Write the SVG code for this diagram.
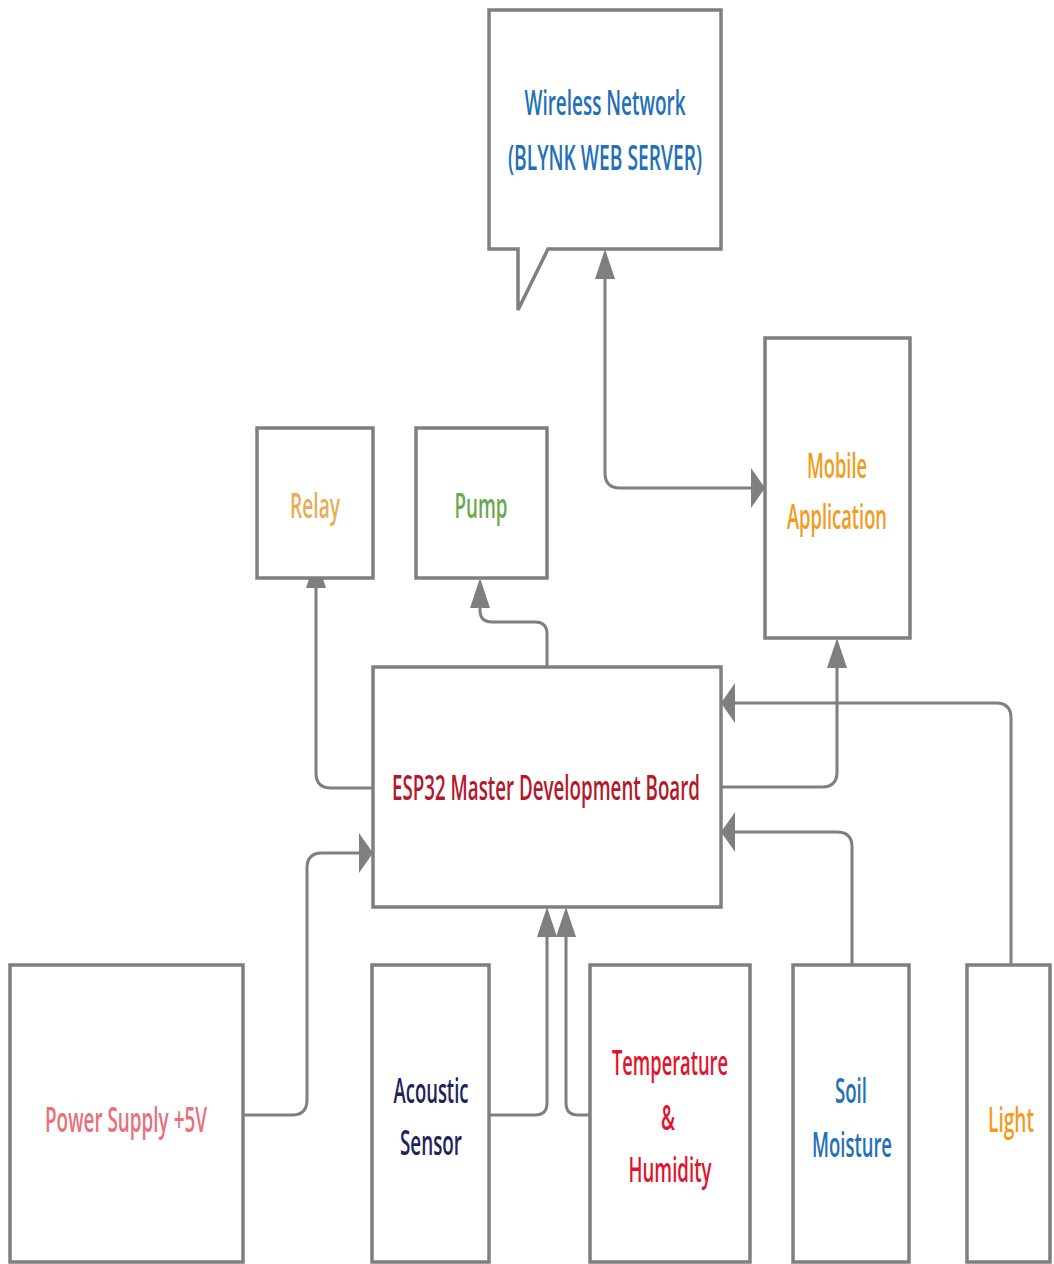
<svg xmlns="http://www.w3.org/2000/svg" width="1054" height="1264" viewBox="0 0 1054 1264">
<style>
.box{fill:#ffffff;stroke:#7f7f7f;stroke-width:3.5;stroke-linejoin:miter}
.con{fill:none;stroke:#7f7f7f;stroke-width:3}
text{font-family:"Open Sans","Liberation Sans",sans-serif;font-size:35px;font-weight:600;text-anchor:middle}
</style>
<defs>
<marker id="arrV" markerUnits="userSpaceOnUse" markerWidth="31" markerHeight="22" refX="0" refY="10" orient="auto" viewBox="0 0 31 22" overflow="visible">
<path d="M0,0 L30,10 L0,20 z" fill="#7f7f7f"/>
</marker>
<marker id="arrVs" markerUnits="userSpaceOnUse" markerWidth="31" markerHeight="22" refX="0" refY="10" orient="auto-start-reverse" viewBox="0 0 31 22" overflow="visible">
<path d="M0,0 L30,10 L0,20 z" fill="#7f7f7f"/>
</marker>
<marker id="arrH" markerUnits="userSpaceOnUse" markerWidth="15" markerHeight="42" refX="0" refY="20" orient="auto" viewBox="0 0 15 42" overflow="visible">
<path d="M0,0 L14,20 L0,40 z" fill="#7f7f7f"/>
</marker>
</defs>
<rect width="1054" height="1264" fill="#ffffff"/>

<g id="connectors">
<path class="con" d="M605,279 V473 Q605,488 620,488 H751" marker-start="url(#arrVs)" marker-end="url(#arrH)"/>
<path class="con" d="M373,788 H331 Q316,788 316,773 V588" marker-end="url(#arrV)"/>
<path class="con" d="M547,667 V634 Q547,622 535,622 H492 Q480,622 480,610 V608" marker-end="url(#arrV)"/>
<path class="con" d="M721,787 H822 Q837,787 837,772 V668" marker-end="url(#arrV)"/>
<path class="con" d="M1011,965 V718 Q1011,703 996,703 H735" marker-end="url(#arrH)"/>
<path class="con" d="M852,965 V847 Q852,832 837,832 H735" marker-end="url(#arrH)"/>
<path class="con" d="M243,1115 H292 Q307,1115 307,1100 V868 Q307,853 322,853 H359" marker-end="url(#arrH)"/>
<path class="con" d="M489,1115 H535 Q547,1115 547,1103 V937" marker-end="url(#arrV)"/>
<path class="con" d="M590,1115 H578 Q566,1115 566,1103 V937" marker-end="url(#arrV)"/>
</g>

<g id="wireless">
<path class="box" d="M489,10 H721 V249 H548 L518,310 V249 H489 Z"/>
<text x="605" y="115" fill="#2270b8" textLength="161" lengthAdjust="spacingAndGlyphs">Wireless Network</text>
<text x="605" y="170" fill="#2270b8" textLength="194" lengthAdjust="spacingAndGlyphs">(BLYNK WEB SERVER)</text>
</g>

<g id="relay">
<rect class="box" x="257" y="428" width="116" height="150"/>
<text x="315" y="518" fill="#e8ad55" textLength="50" lengthAdjust="spacingAndGlyphs">Relay</text>
</g>

<g id="pump">
<rect class="box" x="416" y="428" width="131" height="150"/>
<text x="481" y="518" fill="#6aa84f" textLength="53" lengthAdjust="spacingAndGlyphs">Pump</text>
</g>

<g id="mobile">
<rect class="box" x="765" y="338" width="145" height="300"/>
<text x="837" y="478" fill="#f29b1d" textLength="60" lengthAdjust="spacingAndGlyphs">Mobile</text>
<text x="837" y="529" fill="#f29b1d" textLength="100" lengthAdjust="spacingAndGlyphs">Application</text>
</g>

<g id="esp32">
<rect class="box" x="373" y="667" width="348" height="240"/>
<text x="546" y="800" fill="#b3182b" textLength="308" lengthAdjust="spacingAndGlyphs">ESP32 Master Development Board</text>
</g>

<g id="power">
<rect class="box" x="10" y="965" width="233" height="297"/>
<text x="126" y="1132" fill="#e8707a" textLength="162" lengthAdjust="spacingAndGlyphs">Power Supply +5V</text>
</g>

<g id="acoustic">
<rect class="box" x="372" y="965" width="117" height="297"/>
<text x="431" y="1103" fill="#1c2557" textLength="75" lengthAdjust="spacingAndGlyphs">Acoustic</text>
<text x="431" y="1155" fill="#1c2557" textLength="62" lengthAdjust="spacingAndGlyphs">Sensor</text>
</g>

<g id="temperature">
<rect class="box" x="590" y="965" width="160" height="297"/>
<text x="670" y="1075" fill="#e2142d" textLength="116" lengthAdjust="spacingAndGlyphs">Temperature</text>
<text x="668" y="1130" fill="#e2142d" textLength="14" lengthAdjust="spacingAndGlyphs">&amp;</text>
<text x="670" y="1182" fill="#e2142d" textLength="83" lengthAdjust="spacingAndGlyphs">Humidity</text>
</g>

<g id="soil">
<rect class="box" x="793" y="965" width="116" height="297"/>
<text x="851" y="1103" fill="#2270b8" textLength="32" lengthAdjust="spacingAndGlyphs">Soil</text>
<text x="852" y="1157" fill="#2270b8" textLength="80" lengthAdjust="spacingAndGlyphs">Moisture</text>
</g>

<g id="light">
<rect class="box" x="967" y="965" width="83" height="297"/>
<text x="1011" y="1132" fill="#f29b1d" textLength="46" lengthAdjust="spacingAndGlyphs">Light</text>
</g>
</svg>
